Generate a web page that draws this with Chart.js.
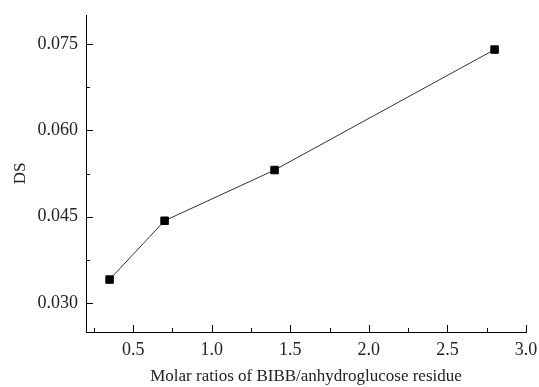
<!DOCTYPE html>
<html>
<head>
<meta charset="utf-8">
<script src="https://cdn.jsdelivr.net/npm/chart.js@4"></script>
<style>
  body { margin: 0; background: #fff; }
  #wrap { width: 539px; height: 387px; position: relative; }
</style>
</head>
<body>
<div id="wrap"><canvas id="ds-chart"></canvas></div>
<script>
var ratios = [0.35, 0.7, 1.4, 2.8];
var dsValues = [0.0341, 0.0443, 0.0531, 0.0740];
var xTicks = [0.5, 1.0, 1.5, 2.0, 2.5, 3.0];
var xMinor = [0.25, 0.75, 1.25, 1.75, 2.25, 2.75];
var yTicks = [0.030, 0.045, 0.060, 0.075];
var yMinor = [0.0375, 0.0525, 0.0675];

var serif = "'Liberation Serif', 'Times New Roman', serif";

// ticks pointing inward, drawn on the scales
var inwardTicks = {
  id: 'inwardTicks',
  afterDatasetsDraw: function (chart) {
    var ctx = chart.ctx;
    var x = chart.scales.x, y = chart.scales.y;
    var area = chart.chartArea;
    ctx.save();
    ctx.strokeStyle = '#000';
    ctx.lineWidth = 1;
    ctx.beginPath();
    xTicks.forEach(function (v) {
      var p = Math.round(x.getPixelForValue(v)) + 0.5;
      ctx.moveTo(p, area.bottom); ctx.lineTo(p, area.bottom - 7);
    });
    xMinor.forEach(function (v) {
      var p = Math.round(x.getPixelForValue(v)) + 0.5;
      ctx.moveTo(p, area.bottom); ctx.lineTo(p, area.bottom - 4);
    });
    yTicks.forEach(function (v) {
      var p = Math.round(y.getPixelForValue(v)) + 0.5;
      ctx.moveTo(area.left, p); ctx.lineTo(area.left + 7, p);
    });
    yMinor.forEach(function (v) {
      var p = Math.round(y.getPixelForValue(v)) + 0.5;
      ctx.moveTo(area.left, p); ctx.lineTo(area.left + 4, p);
    });
    ctx.stroke();
    ctx.restore();
  }
};

new Chart(document.getElementById("ds-chart"), {
  type: 'scatter',
  data: {
    datasets: [
      {
        label: "DS",
        data: ratios.map(function (r, i) { return { x: r, y: dsValues[i] }; }),
        showLine: true,
        borderColor: "#333",
        borderWidth: 1,
        backgroundColor: "#000",
        pointStyle: 'rect',
        pointRadius: 5.3,
        pointBorderWidth: 1,
        pointBorderColor: "#000",
        pointBackgroundColor: "#000"
      }
    ]
  },
  options: {
    responsive: true,
    maintainAspectRatio: false,
    animation: false,
    layout: {
      padding: { left: 10, top: 15, right: 13, bottom: 0 }
    },
    plugins: {
      legend: { display: false },
      tooltip: { enabled: false }
    },
    scales: {
      x: {
        type: 'linear',
        min: 0.2,
        max: 3.0,
        afterBuildTicks: function (scale) {
          scale.ticks = xTicks.map(function (v) { return { value: v }; });
        },
        afterFit: function (scale) {
          scale.height = 55;
          scale.paddingLeft = 0;
          scale.paddingRight = 0;
        },
        border: { display: true, color: '#000', width: 1 },
        grid: { display: false, drawTicks: false },
        ticks: {
          padding: 7,
          color: '#222',
          font: { family: serif, size: 18 },
          callback: function (v) { return v.toFixed(1); }
        },
        title: {
          display: true,
          text: 'Molar ratios of BIBB/anhydroglucose residue',
          color: '#222',
          font: { family: serif, size: 17 },
          padding: { top: 9, bottom: 0 }
        }
      },
      y: {
        type: 'linear',
        min: 0.025,
        max: 0.080,
        afterBuildTicks: function (scale) {
          scale.ticks = yTicks.map(function (v) { return { value: v }; });
        },
        afterFit: function (scale) {
          scale.width = 76;
          scale.paddingTop = 0;
          scale.paddingBottom = 0;
        },
        border: { display: true, color: '#000', width: 1 },
        grid: { display: false, drawTicks: false },
        ticks: {
          padding: 8,
          color: '#222',
          font: { family: serif, size: 18 },
          callback: function (v) { return v.toFixed(3); }
        },
        title: {
          display: true,
          text: 'DS',
          color: '#222',
          font: { family: serif, size: 17 },
          padding: { top: 0, bottom: 0 }
        }
      }
    }
  },
  plugins: [inwardTicks]
});
</script>
</body>
</html>
